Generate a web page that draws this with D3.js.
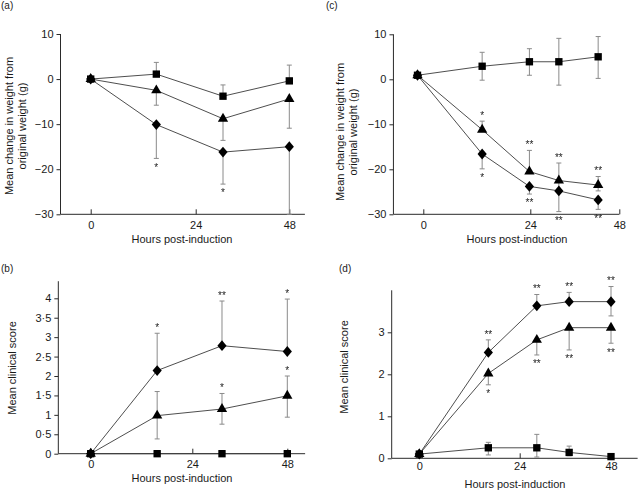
<!DOCTYPE html>
<html><head><meta charset="utf-8">
<script src="https://cdn.jsdelivr.net/npm/d3@7"></script>
<style>
body{margin:0;background:#fff}
svg{display:block}
text{font-family:"Liberation Sans",Arial,Helvetica,sans-serif;fill:#1a1a1a}
</style>
</head><body>
<svg id="chart" width="642" height="490"></svg>
<script>
// ---------- DATA ----------
const xTickValues = [0, 24, 48];
const weightTicks = [-30, -20, -10, 0, 10];
const scoreTicksB = [0, 0.5, 1, 1.5, 2, 2.5, 3, 3.5, 4];
const scoreTicksD = [0, 1, 2, 3];

// (a) weight change
const timesA = [0, 15, 31, 48];
const squareA = [0, 1.1, -3.8, -0.4];
const squareAHi = [null, 3.7, -1.3, 3.1];
const triangleA = [0, -2.5, -8.8, -4.4];
const triangleALo = [null, -5.8, -13.6, -10.9];
const diamondA = [0, -10.1, -16.2, -15.0];
const diamondALo = [null, -17.6, -23.3, -30];
const diamondAStars = ["", "*", "*", ""];

// (b) clinical score
const timesB = [0, 15.7, 31.5, 48];
const squareB = [0, 0, 0, 0];
const triangleB = [0, 0.98, 1.15, 1.49];
const triangleBLo = [null, 0.38, 0.76, 0.94];
const triangleBHi = [null, 1.6, 1.55, 2.0];
const triangleBStars = ["", "", "*", "*"];
const diamondB = [0, 2.14, 2.78, 2.63];
const diamondBHi = [null, 3.1, 3.93, 3.98];
const diamondBStars = ["", "*", "**", "*"];

// (c) weight change
const timesC = [-1.3, 13.2, 23.8, 31.7, 42.3];
const squareC = [0.9, 2.9, 3.9, 3.9, 5.0];
const squareCLo = [null, -0.2, 0.9, -1.3, 0.2];
const squareCHi = [null, 6.0, 6.8, 9.1, 9.5];
const triangleC = [0.9, -11.2, -20.5, -22.5, -23.5];
const triangleCLo = [null, null, null, -24.8, -24.8];
const triangleCHi = [null, -9.3, -15.8, -18.6, -21.6];
const triangleCStars = ["", "*", "**", "**", "**"];
const diamondC = [0.9, -16.6, -23.8, -24.8, -26.8];
const diamondCLo = [null, -19.9, -25.5, -29.4, -28.9];
const diamondCStars = ["", "*", "**", "**", "**"];

// (d) clinical score
const timesD = [0, 16.5, 28.5, 37, 48];
const squareD = [0.1, 0.25, 0.25, 0.14, 0.04];
const squareDLo = [null, 0.08, 0.03, 0.06, null];
const squareDHi = [null, 0.38, 0.57, 0.29, null];
const triangleD = [0.1, 2.02, 2.82, 3.11, 3.11];
const triangleDLo = [null, 1.75, 2.46, 2.58, 2.74];
const triangleDStars = ["", "*", "**", "**", "**"];
const diamondD = [0.1, 2.52, 3.63, 3.73, 3.73];
const diamondDLo = [null, null, null, null, 3.39];
const diamondDHi = [null, 2.82, 3.9, 3.95, 4.09];
const diamondDStars = ["", "**", "**", "**", "**"];

const weightLabel = ["Mean change in weight from", "original weight (g)"];
const scoreLabel = ["Mean clinical score"];
const xLabel = "Hours post-induction";

// ---------- LAYOUT / STYLE ----------
const none = arr => arr.map(() => null);
const noStars = arr => arr.map(() => "");

const panels = [
  { tag: "(a)", tagPos: [1, 9], times: timesA,
    xRange: [90.7, 195.7, 289.3], xExt: [-6.9, 52],
    yDomain: [-30, 10], yRange: [214.3, 34], yTop: 10, yTicks: weightTicks,
    fmt: d3.format("d"), yLabel: weightLabel, yLabelX: [9, 22], yLabelY: 126,
    xLabelPos: [182, 243], xPad: 7,
    series: [
      { shape: "square", v: squareA, lo: none(squareA), hi: squareAHi, stars: noStars(squareA), side: "above" },
      { shape: "triangle", v: triangleA, lo: triangleALo, hi: none(triangleA), stars: noStars(triangleA), side: "below" },
      { shape: "diamond", v: diamondA, lo: diamondALo, hi: none(diamondA), stars: diamondAStars, side: "below" }
    ] },
  { tag: "(b)", tagPos: [1, 272], times: timesB,
    xRange: [90.7, 192.3, 287.3], xExt: [-7.65, 52.5],
    yDomain: [0, 4], yRange: [453.7, 298.3], yTop: 4.44, yTicks: scoreTicksB,
    fmt: d => String(d).replace(".", "\u00b7"), yLabel: scoreLabel, yLabelX: [12], yLabelY: 368,
    xLabelPos: [182, 482], xPad: 7,
    series: [
      { shape: "square", v: squareB, lo: none(squareB), hi: none(squareB), stars: noStars(squareB), side: "above" },
      { shape: "triangle", v: triangleB, lo: triangleBLo, hi: triangleBHi, stars: triangleBStars, side: "above" },
      { shape: "diamond", v: diamondB, lo: none(diamondB), hi: diamondBHi, stars: diamondBStars, side: "above" }
    ] },
  { tag: "(c)", tagPos: [326, 9], times: timesC,
    xRange: [423.3, 530.3, 619.3], xExt: [-6.7, 48],
    yDomain: [-30, 10], yRange: [214.3, 34.3], yTop: 10, yTicks: weightTicks,
    fmt: d3.format("d"), yLabel: weightLabel, yLabelX: [340, 353], yLabelY: 132,
    xLabelPos: [517, 243], xPad: 7,
    series: [
      { shape: "square", v: squareC, lo: squareCLo, hi: squareCHi, stars: noStars(squareC), side: "above" },
      { shape: "triangle", v: triangleC, lo: triangleCLo, hi: triangleCHi, stars: triangleCStars, side: "above" },
      { shape: "diamond", v: diamondC, lo: diamondCLo, hi: none(diamondC), stars: diamondCStars, side: "below" }
    ] },
  { tag: "(d)", tagPos: [339, 272], times: timesD,
    xRange: [419.3, 519.7, 611], xExt: [-6.6, 55],
    yDomain: [0, 4], yRange: [458.3, 290.3], yTop: 4, yTicks: scoreTicksD,
    fmt: d3.format("d"), yLabel: scoreLabel, yLabelX: [344], yLabelY: 367,
    xLabelPos: [515, 488], xPad: 4,
    series: [
      { shape: "square", v: squareD, lo: squareDLo, hi: squareDHi, stars: noStars(squareD), side: "above" },
      { shape: "triangle", v: triangleD, lo: triangleDLo, hi: none(triangleD), stars: triangleDStars, side: "below" },
      { shape: "diamond", v: diamondD, lo: diamondDLo, hi: diamondDHi, stars: diamondDStars, side: "above" }
    ] }
];

const AXIS = "#2a2a2a", LINE = "#3a3a3a", ERR = "#8a8a8a", MARK = "#000";
const FS = 11;

const symbolPath = {
  square: d3.symbol(d3.symbolSquare, 54)(),
  triangle: d3.symbol(d3.symbolTriangle, 46)(),
  diamond: "M0,-5.4L4.6,0L0,5.4L-4.6,0Z"
};

const svg = d3.select("#chart");

// grayscale filter so the small star glyphs render without colour fringes
const flt = svg.append("defs").append("filter").attr("id", "gray")
  .attr("x", "-20%").attr("y", "-20%").attr("width", "140%").attr("height", "140%");
flt.append("feColorMatrix").attr("type", "saturate").attr("values", 0);

panels.forEach(p => {
  const g = svg.append("g");
  const x = d3.scaleLinear().domain(xTickValues).range(p.xRange);
  const y = d3.scaleLinear().domain(p.yDomain).range(p.yRange);
  const x0 = x(p.xExt[0]);

  // axes lines
  g.append("line").attr("x1", x0).attr("x2", x0)
    .attr("y1", y(p.yDomain[0])).attr("y2", y(p.yTop))
    .attr("stroke", AXIS).attr("stroke-width", 1);
  g.append("line").attr("x1", x0).attr("x2", x(p.xExt[1]))
    .attr("y1", y(p.yDomain[0])).attr("y2", y(p.yDomain[0]))
    .attr("stroke", AXIS).attr("stroke-width", 1);

  const ya = g.append("g").attr("transform", `translate(${x0},0)`)
    .call(d3.axisLeft(y).tickValues(p.yTicks).tickFormat(p.fmt).tickSize(4).tickPadding(3));
  ya.select(".domain").remove();
  ya.selectAll("line").attr("stroke", AXIS);
  ya.selectAll("text").attr("font-size", FS).attr("font-family", null).attr("fill", "#1a1a1a");

  const xa = g.append("g").attr("transform", `translate(0,${y(p.yDomain[0])})`)
    .call(d3.axisBottom(x).tickValues(xTickValues).tickFormat(d3.format("d")).tickSize(-5).tickPadding(p.xPad));
  xa.select(".domain").remove();
  xa.selectAll("line").attr("stroke", AXIS);
  xa.selectAll("text").attr("font-size", FS).attr("font-family", null).attr("fill", "#1a1a1a");

  // labels
  g.append("text").attr("x", p.tagPos[0]).attr("y", p.tagPos[1]).attr("font-size", 10).text(p.tag);
  g.append("text").attr("x", p.xLabelPos[0]).attr("y", p.xLabelPos[1])
    .attr("text-anchor", "middle").attr("font-size", FS).text(xLabel);
  p.yLabel.forEach((t, i) => {
    g.append("text")
      .attr("transform", `translate(${p.yLabelX[i] + 4},${p.yLabelY}) rotate(-90)`)
      .attr("text-anchor", "middle").attr("font-size", FS).text(t);
  });

  const line = d3.line().x(d => x(d.t)).y(d => y(d.v));

  // lines
  p.series.forEach(s => {
    const pts = s.v.map((v, i) => ({ t: p.times[i], v }));
    g.append("path").datum(pts).attr("d", line)
      .attr("fill", "none").attr("stroke", LINE).attr("stroke-width", 0.9);
  });

  // error bars
  p.series.forEach(s => {
    s.v.forEach((v, i) => {
      const cx = x(p.times[i]);
      [s.lo[i], s.hi[i]].forEach(e => {
        if (e === null) return;
        g.append("line").attr("x1", cx).attr("x2", cx)
          .attr("y1", y(v)).attr("y2", y(e)).attr("stroke", ERR).attr("stroke-width", 1);
        g.append("line").attr("x1", cx - 2.5).attr("x2", cx + 2.5)
          .attr("y1", y(e)).attr("y2", y(e)).attr("stroke", ERR).attr("stroke-width", 1);
      });
    });
  });

  // markers (squares drawn last so they sit on top at shared points)
  ["diamond", "triangle", "square"].forEach(shape => {
    const s = p.series.find(q => q.shape === shape);
    s.v.forEach((v, i) => {
      g.append("path").attr("d", symbolPath[shape])
        .attr("transform", `translate(${x(p.times[i])},${y(v)})`)
        .attr("fill", MARK);
    });
  });

  // significance stars
  const SFS = 10;
  const sg = g.append("g").attr("filter", "url(#gray)");
  p.series.forEach(s => {
    s.stars.forEach((st, i) => {
      if (!st) return;
      const cx = x(p.times[i]);
      let cy;
      if (s.side === "above") {
        const a = s.hi[i] !== null ? s.hi[i] : s.v[i];
        cy = y(a) - 8;
      } else {
        const a = s.lo[i] !== null ? s.lo[i] : s.v[i];
        cy = y(a) + 6.5;
      }
      sg.append("text").attr("x", cx).attr("y", cy + 0.58 * SFS)
        .attr("text-anchor", "middle").attr("font-size", SFS).attr("fill", "#222").text(st);
    });
  });
});
</script>
</body></html>
